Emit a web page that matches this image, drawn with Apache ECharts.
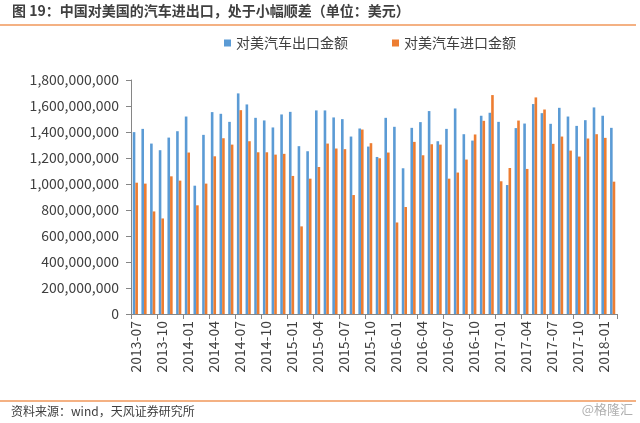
<!DOCTYPE html>
<html><head><meta charset="utf-8">
<script src="https://cdn.jsdelivr.net/npm/echarts@6/dist/echarts.min.js"></script>
<style>html,body{margin:0;padding:0;background:#fff}#c{width:640px;height:423px}</style>
</head><body><div id="c"></div>
<script>
const months = [
 '2013-07','2013-08','2013-09','2013-10','2013-11','2013-12',
 '2014-01','2014-02','2014-03','2014-04','2014-05','2014-06','2014-07','2014-08','2014-09','2014-10','2014-11','2014-12',
 '2015-01','2015-02','2015-03','2015-04','2015-05','2015-06','2015-07','2015-08','2015-09','2015-10','2015-11','2015-12',
 '2016-01','2016-02','2016-03','2016-04','2016-05','2016-06','2016-07','2016-08','2016-09','2016-10','2016-11','2016-12',
 '2017-01','2017-02','2017-03','2017-04','2017-05','2017-06','2017-07','2017-08','2017-09','2017-10','2017-11','2017-12',
 '2018-01','2018-02'
];
const exportValues = [
 1399e6,1424e6,1311e6,1260e6,1357e6,1406e6,
 1519e6,987e6,1378e6,1553e6,1540e6,1478e6,1697e6,1612e6,1509e6,1489e6,1435e6,1535e6,
 1555e6,1291e6,1252e6,1566e6,1566e6,1512e6,1499e6,1365e6,1427e6,1288e6,1208e6,1509e6,
 1440e6,1121e6,1432e6,1476e6,1561e6,1329e6,1424e6,1581e6,1383e6,1334e6,1525e6,1548e6,
 1478e6,992e6,1430e6,1465e6,1615e6,1545e6,1463e6,1586e6,1519e6,1447e6,1491e6,1589e6,
 1525e6,1432e6
];
const importValues = [
 1010e6,1003e6,789e6,735e6,1059e6,1026e6,
 1242e6,836e6,1003e6,1213e6,1352e6,1303e6,1568e6,1329e6,1244e6,1244e6,1226e6,1232e6,
 1062e6,674e6,1041e6,1131e6,1311e6,1273e6,1268e6,915e6,1419e6,1314e6,1198e6,1242e6,
 704e6,823e6,1324e6,1221e6,1306e6,1303e6,1041e6,1088e6,1188e6,1381e6,1486e6,1684e6,
 1021e6,1123e6,1488e6,1116e6,1666e6,1573e6,1309e6,1365e6,1257e6,1211e6,1350e6,1383e6,
 1355e6,1018e6
];
const seriesNames = ['对美汽车出口金额','对美汽车进口金额'];
const titleText = '图 19：中国对美国的汽车进出口，处于小幅顺差（单位：美元）';
const sourceText = '资料来源：wind，天风证券研究所';
const watermarkText = '@格隆汇';

const FONT = '"Noto Sans CJK SC", "Noto Sans", sans-serif';
const chart = echarts.init(document.getElementById('c'), null, {renderer:'canvas'});
chart.setOption({
  animation:false,
  backgroundColor:'#fff',
  textStyle:{fontFamily:FONT},
  color:['#5B9BD5','#ED7D31'],
  grid:{left:131,right:23,top:80,bottom:109,containLabel:false},
  legend:{
    data:seriesNames, top:36, left:224, padding:0, icon:'rect', itemWidth:7, itemHeight:7, itemGap:44,
    textStyle:{fontSize:14,color:'#404040',fontFamily:FONT}
  },
  xAxis:{
    type:'category', data:months, boundaryGap:true,
    axisLine:{lineStyle:{color:'#868686',width:1}},
    axisTick:{show:true,interval:2,length:5,lineStyle:{color:'#868686'}},
    axisLabel:{interval:2,rotate:90,fontSize:14,color:'#404040',margin:7,fontFamily:FONT},
    splitLine:{show:false}
  },
  yAxis:{
    type:'value', min:0, max:1800000000, interval:200000000,
    axisLine:{show:true,lineStyle:{color:'#868686',width:1}},
    axisTick:{show:true,length:5,lineStyle:{color:'#868686'}},
    axisLabel:{fontSize:14,color:'#404040',margin:12,fontFamily:FONT,
      formatter:v=>v.toLocaleString('en-US')},
    splitLine:{show:false}
  },
  series:[
    {name:seriesNames[0],type:'bar',data:exportValues,barWidth:'30%',barGap:'0%'},
    {name:seriesNames[1],type:'bar',data:importValues,barWidth:'30%',barGap:'0%'}
  ],
  graphic:[
    {type:'text',left:12,top:4,style:{text:titleText,fontSize:14,fontWeight:'bold',fill:'#404040',fontFamily:FONT}},
    {type:'rect',shape:{x:0,y:24,width:636,height:2},style:{fill:'#F4B183'}},
    {type:'rect',shape:{x:0,y:400,width:636,height:2},style:{fill:'#F4B183'}},
    {type:'text',left:11,top:405,style:{text:sourceText,fontSize:12,fill:'#404040',fontFamily:FONT}},
    {type:'text',right:7,top:403,style:{text:watermarkText,fontSize:13,fill:'#b0b0b0',fontFamily:FONT}}
  ]
});
</script></body></html>
